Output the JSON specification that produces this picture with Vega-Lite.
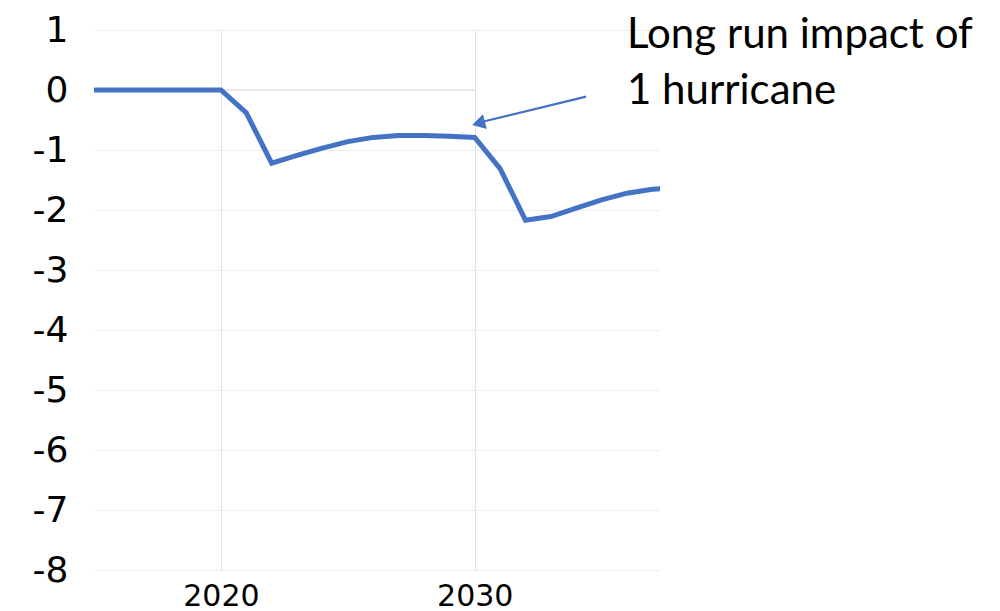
{
  "$schema": "https://vega.github.io/schema/vega-lite/v6.json",
  "autosize": "none",
  "width": 566,
  "height": 540,
  "padding": {"left": 94, "top": 30, "right": 340, "bottom": 41},
  "background": "white",
  "config": {"view": {"stroke": null}},
  "datasets": {
    "series": [
      {"year": 2015, "value": 0},
      {"year": 2016, "value": 0},
      {"year": 2017, "value": 0},
      {"year": 2018, "value": 0},
      {"year": 2019, "value": 0},
      {"year": 2020, "value": 0},
      {"year": 2021, "value": -0.38},
      {"year": 2022, "value": -1.22},
      {"year": 2023, "value": -1.09},
      {"year": 2024, "value": -0.97},
      {"year": 2025, "value": -0.86},
      {"year": 2026, "value": -0.79},
      {"year": 2027, "value": -0.76},
      {"year": 2028, "value": -0.76},
      {"year": 2029, "value": -0.77},
      {"year": 2030, "value": -0.79},
      {"year": 2031, "value": -1.31},
      {"year": 2032, "value": -2.17},
      {"year": 2033, "value": -2.11},
      {"year": 2034, "value": -1.97},
      {"year": 2035, "value": -1.83},
      {"year": 2036, "value": -1.72},
      {"year": 2037, "value": -1.655},
      {"year": 2038, "value": -1.62}
    ]
  },
  "layer": [
    {
      "data": {"values": [{"x": 2015, "x2": 2030, "y": 0}]},
      "mark": {"type": "rule", "color": "#D0D0D0", "strokeWidth": 1},
      "encoding": {
        "x": {"field": "x", "type": "quantitative", "scale": {"domain": [2015, 2037.3], "nice": false, "zero": false},
          "axis": {"values": [2020, 2030], "format": "d", "title": null, "domain": false, "ticks": false,
            "labelFont": "DejaVu Sans", "labelFontSize": 30, "labelColor": "#000000", "labelPadding": 11,
            "grid": true, "gridColor": "#E2E2E2", "gridWidth": 1}},
        "x2": {"field": "x2"},
        "y": {"field": "y", "type": "quantitative", "scale": {"domain": [-8, 1], "nice": false},
          "axis": {"values": [1, 0, -1, -2, -3, -4, -5, -6, -7, -8], "title": null, "domain": false, "ticks": false,
            "labelExpr": "datum.value + ''",
            "labelFont": "DejaVu Sans", "labelFontSize": 36, "labelColor": "#000000", "labelPadding": 26,
            "grid": true, "gridWidth": 1,
            "gridColor": {"condition": {"test": "datum.value === 0", "value": "transparent"}, "value": "#EEEEEE"}}}
      }
    },
    {
      "data": {"name": "series"},
      "mark": {"type": "line", "color": "#4472C4", "strokeWidth": 5, "clip": true, "strokeJoin": "miter"},
      "encoding": {
        "x": {"field": "year", "type": "quantitative"},
        "y": {"field": "value", "type": "quantitative"}
      }
    },
    {
      "data": {"values": [{"x": 2034.39, "y": -0.11, "x2": 2030.1, "y2": -0.55}]},
      "mark": {"type": "rule", "color": "#4472C4", "strokeWidth": 2.25, "clip": false},
      "encoding": {
        "x": {"field": "x", "type": "quantitative"},
        "y": {"field": "y", "type": "quantitative"},
        "x2": {"field": "x2"},
        "y2": {"field": "y2"}
      }
    },
    {
      "data": {"values": [{"x": 2030.15, "y": -0.555}]},
      "mark": {"type": "point", "shape": "triangle-up", "filled": true, "color": "#4472C4", "opacity": 1, "size": 230, "angle": 255, "clip": false},
      "encoding": {
        "x": {"field": "x", "type": "quantitative"},
        "y": {"field": "y", "type": "quantitative"}
      }
    },
    {
      "data": {"values": [{"x": 2036.0, "y": 0.7, "label": ["Long run impact of", "1 hurricane"]}]},
      "mark": {"type": "text", "align": "left", "baseline": "alphabetic", "font": "Lato", "fontSize": 42, "lineHeight": 56, "color": "#000000", "clip": false},
      "encoding": {
        "x": {"field": "x", "type": "quantitative"},
        "y": {"field": "y", "type": "quantitative"},
        "text": {"field": "label"}
      }
    }
  ]
}
